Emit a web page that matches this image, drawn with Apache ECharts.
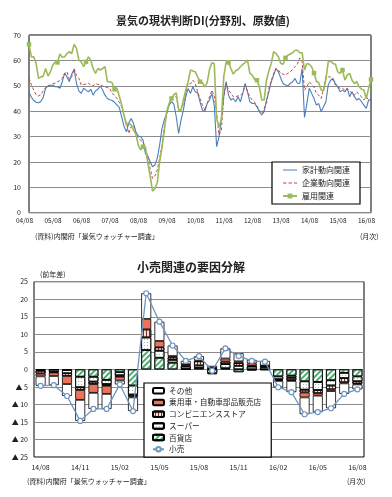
<!DOCTYPE html>
<html><head><meta charset="utf-8">
<script src="https://cdn.jsdelivr.net/npm/echarts@6/dist/echarts.min.js"></script>
<style>html,body{margin:0;padding:0;background:#fff}#c{width:392px;height:497px}</style>
</head><body><div id="c"></div>
<script>
// ---------- Top chart: 景気の現状判断DI (monthly 2004/08 - 2016/08) ----------
const startYear = 2004, startMonth = 8, monthCount = 145;
const monthLabels = [];
for (let i = 0; i < monthCount; i++) {
  const t = startYear * 12 + (startMonth - 1) + i;
  const yy = String(Math.floor(t / 12) % 100).padStart(2, '0');
  const mm = String(t % 12 + 1).padStart(2, '0');
  monthLabels.push(yy + '/' + mm);
}
const household = [47.5,45.5,44.2,43.5,43.3,43.8,45.5,49,50,49.8,50.3,49.6,49.6,49,51.5,55,53.5,51.6,54.6,56.4,50.9,48,47,49,48.3,47.6,48.6,46.3,48,48.6,49.9,48.3,46.3,45,44.5,44.2,43.5,42.5,41.5,37.8,34,31.9,35.2,37.1,35.2,31.9,30.2,29.9,28.6,23.4,22.3,20.1,18.1,18.8,21.4,26.6,33.2,36.7,39.1,42.4,43.7,42.8,37.8,31.2,36.5,40.4,45.7,48.9,47,49.6,47.6,47.2,43.7,40.4,39.8,43,44.4,47,42.4,26,29.9,37.1,45.7,51.6,46.3,44.4,45,43.7,45.7,43.7,47,50.9,47.6,43.7,43,43,41.7,39.8,38.5,39.8,44.4,47.6,51.6,54.2,56.8,55.5,53,50.9,50.3,49.9,50.9,51.6,52.9,51,50.9,56.8,37.5,43,49,47,45,42.4,43,39.8,41.7,43.7,50.3,52.2,52.9,50.9,49.6,47.6,48.3,47.6,49,45.7,47.6,45.7,44.4,45,43.7,42.4,41.1,44.4,44.4];
const corporate = [53,50.3,48.3,46.5,46,46.5,48,49.3,50,50.3,50.9,51,51.6,52,52.9,54.9,55.5,52.5,53.5,56.8,54,52.9,50.3,50.5,50.7,51,50.3,50,50.9,50.5,50.5,49.9,49.6,49.3,49,47,46.3,45,43.5,41.7,38.5,35.2,31.2,33.9,34.5,31.2,29.3,28.5,28,25.3,22,17.5,13.5,14.5,16.8,21.4,26.6,33.9,39.1,43,45.2,45.7,45.7,41,40.4,43,47,50.9,50.7,52.2,50.9,47.6,45,42.5,40.4,43,45.7,48.3,46,39.1,30.6,32.5,45.7,50.9,48.3,47,45.7,45.7,46,46.3,47,50.3,47.6,45.7,44.4,43.5,42,40.4,39.1,41,43,49,52,54.9,56.8,56.2,54.9,54.6,54.2,54.9,55.5,56.5,57.5,58.5,61,59.5,48.3,49.6,51.6,50.5,49.6,47,46.3,45,49,53.5,53.5,53.5,52.2,50.3,49.5,49,49,48.3,49,48,47,46.3,47.6,46.5,45.7,44.4,45.7,44.4,44.5];
const employment = [66.3,61.4,61.4,58.8,52.9,53.5,53.8,56.8,53.8,55.5,58.1,59.4,59.2,62.5,61.2,61.4,62.7,63.4,62.7,66.3,64.7,60.1,59.4,57.5,59.4,61.4,60.1,56.8,54.9,56.8,56.2,56.8,57.5,51.6,51.6,51.2,48.6,49,46,42.5,38.5,34.5,35.5,34.5,32.5,31,26.6,24.7,26,26,19.7,14.5,8.5,9.5,11.8,20,25.5,32.5,40,43,45,46.5,47.2,40.4,40.4,44.4,48.3,51.6,56.2,55.8,55.5,53.5,51.6,51.2,49.6,51.2,56.4,59.1,58.8,37,34,36.5,53.5,59.4,59.2,56.8,54.6,55.9,56.4,57.5,58.4,59.1,60.1,54.9,54.2,52.5,52.2,49.6,44.4,44.4,52.2,55.9,58.8,63.4,62.7,61.4,58.8,58.5,61,62,62.5,63,64,64,63,63,56.2,58.8,58.5,57.5,55,51.8,51.2,48.3,48,52.5,59.4,59.8,58.8,58.5,55.5,54.9,56.2,52.2,54.2,54.9,52.2,50.9,51.6,49.6,48.6,48.3,45,49,52.5];

// ---------- Bottom chart: 小売関連の要因分解 (2014/08 - 2016/08) ----------
const retailMonths = ['14/08','14/09','14/10','14/11','14/12','15/01','15/02','15/03','15/04','15/05','15/06','15/07','15/08','15/09','15/10','15/11','15/12','16/01','16/02','16/03','16/04','16/05','16/06','16/07','16/08'];
const deptStore = [-0.2,-0.1,-0.2,-2.1,-2.1,-3.0,-0.8,-4.6,5.5,3.3,1.9,0.1,0.4,-1.1,0.3,-0.8,-0.3,-0.2,-2.0,-1.8,-3.4,-3.6,-3.1,-1.0,-2.0];
const supermarket = [-0.2,-0.6,-0.9,-3.0,-1.4,-1.2,-0.9,-2.6,3.6,2.0,0.8,0.7,0.7,0.3,1.2,1.0,0.8,0.6,-0.8,-0.6,-2.4,-2.3,-1.5,-1.5,-1.4];
const convenience = [-0.8,-0.2,-0.8,-0.8,-0.7,-0.5,-0.4,-0.5,2.3,1.0,0.7,0.3,1.2,0.2,0.7,0.8,0.2,0.4,-0.3,-0.7,-0.8,-0.9,-1.1,-1.2,-0.7];
const carDealers = [-0.8,-1.0,-2.3,-2.8,-2.5,-2.3,-1.1,-0.3,3.0,1.8,0.4,0.4,0.2,-0.3,0.9,0.5,0.7,0.1,-0.2,-0.2,-1.4,-0.7,-0.5,-0.3,-0.2];
const others = [-2.7,-2.6,-3.4,-6.0,-4.6,-4.3,-1.1,-3.9,7.3,5.5,3.0,0.9,1.3,0.5,2.9,2.3,1.0,1.3,-1.8,-3.2,-4.8,-4.7,-4.9,-3.0,-1.4];
const retailTotal = [-4.7,-4.5,-7.6,-14.7,-11.3,-11.3,-4.3,-11.9,21.7,13.6,6.8,2.4,3.8,-0.4,6.0,3.8,2.4,2.2,-5.1,-6.5,-12.8,-12.2,-11.1,-7.0,-5.7];

const FONT = '"Noto Sans CJK JP", "Noto Sans", sans-serif';
const chart = echarts.init(document.getElementById('c'), null, {renderer: 'canvas'});
const barBorder = {borderColor: '#000', borderWidth: 0.8};
const solidLineIcon = 'path://M0,0h0.01v6h-0.01z M0,2.5h14v1.1h-14z';
const dashedLineIcon = 'path://M0,0h0.01v6h-0.01z M0,2.5h3.5v1.1h-3.5z M5.5,2.5h3.5v1.1h-3.5z M11,2.5h3v1.1h-3z';

const option = {
  animation: false,
  backgroundColor: '#fff',
  textStyle: {fontFamily: FONT, color: '#222'},
  title: [
    {text: '景気の現状判断DI(分野別、原数値)', left: 198, top: 10, textAlign: 'center',
     textStyle: {fontFamily: FONT, fontSize: 11, fontWeight: 'bold', color: '#222'}},
    {text: '小売関連の要因分解', left: 186, top: 256, textAlign: 'center',
     textStyle: {fontFamily: FONT, fontSize: 12, fontWeight: 'bold', color: '#222'}}
  ],
  grid: [
    {left: 29, top: 35, width: 342, height: 177.7, show: true, borderColor: '#000', borderWidth: 1, backgroundColor: 'transparent'},
    {left: 34, top: 281.7, width: 330, height: 175.3, show: true, borderColor: '#000', borderWidth: 1, backgroundColor: 'transparent'}
  ],
  xAxis: [
    {type: 'category', gridIndex: 0, data: monthLabels, boundaryGap: false,
     axisLine: {show: false}, axisTick: {show: false},
     axisLabel: {interval: 11, fontSize: 6.5, color: '#222', margin: 5, padding: [0, 9, 0, 0]}},
    {type: 'category', gridIndex: 1, data: retailMonths, boundaryGap: true,
     axisLine: {show: false}, axisTick: {show: false},
     axisLabel: {interval: 2, fontSize: 7, color: '#222', margin: 7}}
  ],
  yAxis: [
    {type: 'value', gridIndex: 0, min: 0, max: 70, interval: 10,
     axisLine: {show: false}, axisTick: {show: false},
     splitLine: {lineStyle: {color: '#8c8c8c', width: 1}},
     axisLabel: {fontSize: 7, color: '#222', margin: 8}},
    {type: 'value', gridIndex: 1, min: -25, max: 25, interval: 5,
     axisLine: {show: false}, axisTick: {show: false},
     splitLine: {lineStyle: {color: '#8c8c8c', width: 1}},
     axisLabel: {fontSize: 7, color: '#222', margin: 6,
       formatter: v => v < 0 ? '▲ ' + (-v) : String(v)}}
  ],
  legend: [
    {orient: 'vertical', left: 272, top: 162, itemWidth: 14, itemHeight: 6, itemGap: 5,
     padding: [4, 10, 4, 10], borderColor: '#000', borderWidth: 1.2, backgroundColor: '#fff',
     textStyle: {fontSize: 8, color: '#222', fontFamily: FONT},
     data: [{name: '家計動向関連', icon: solidLineIcon}, {name: '企業動向関連', icon: dashedLineIcon}, '雇用関連']},
    {orient: 'vertical', left: 144, top: 383, itemWidth: 11, itemHeight: 5.5, itemGap: 4,
     padding: [4, 10, 4, 8], borderColor: '#000', borderWidth: 1.2, backgroundColor: '#fff',
     textStyle: {fontSize: 7.7, color: '#222', fontFamily: FONT},
     data: ['その他', '乗用車・自動車部品販売店', 'コンビニエンスストア', 'スーパー', '百貨店', '小売']}
  ],
  graphic: [
    {type: 'text', left: 35, top: 233, style: {text: '(資料)内閣府「景気ウォッチャー調査」', fontSize: 7, fill: '#222', fontFamily: FONT}},
    {type: 'text', left: 360, top: 233, style: {text: '(月次)', fontSize: 7, fill: '#222', fontFamily: FONT}},
    {type: 'text', left: 40, top: 271, style: {text: '(前年差)', fontSize: 7, fill: '#222', fontFamily: FONT}},
    {type: 'text', left: 27, top: 478, style: {text: '(資料)内閣府「景気ウォッチャー調査」', fontSize: 7, fill: '#222', fontFamily: FONT}},
    {type: 'text', left: 347, top: 478, style: {text: '(月次)', fontSize: 7, fill: '#222', fontFamily: FONT}}
  ],
  series: [
    {name: '家計動向関連', type: 'line', xAxisIndex: 0, yAxisIndex: 0, data: household,
     symbol: 'none', lineStyle: {color: '#4a7ebb', width: 1.1}, itemStyle: {color: '#4a7ebb'}},
    {name: '企業動向関連', type: 'line', xAxisIndex: 0, yAxisIndex: 0, data: corporate,
     symbol: 'none', lineStyle: {color: '#be4b48', width: 1, type: [3, 2]}, itemStyle: {color: '#be4b48'}},
    {name: '雇用関連', type: 'line', xAxisIndex: 0, yAxisIndex: 0, data: employment,
     symbol: 'rect', symbolSize: 4.5, lineStyle: {color: '#9bbb59', width: 1.6}, itemStyle: {color: '#9bbb59'}},

    {name: '百貨店', type: 'bar', stack: 'r', xAxisIndex: 1, yAxisIndex: 1, data: deptStore, barWidth: 10,
     itemStyle: Object.assign({color: '#ffffff', decal: {symbol: 'rect', symbolSize: 1, dashArrayX: [1, 0], dashArrayY: [1.2, 2], rotation: -Math.PI / 4, color: '#4fae6e'}}, barBorder)},
    {name: 'スーパー', type: 'bar', stack: 'r', xAxisIndex: 1, yAxisIndex: 1, data: supermarket, barWidth: 10,
     itemStyle: Object.assign({color: '#ffffff', decal: {symbol: 'rect', symbolSize: 1, dashArrayX: [1, 2], dashArrayY: [1, 2], rotation: 0, color: '#9fbfa8'}}, barBorder)},
    {name: 'コンビニエンスストア', type: 'bar', stack: 'r', xAxisIndex: 1, yAxisIndex: 1, data: convenience, barWidth: 10,
     itemStyle: Object.assign({color: '#f6e0d8', decal: {symbol: 'rect', symbolSize: 1, dashArrayX: [1, 0], dashArrayY: [1, 1.2], rotation: Math.PI / 2, color: '#7a2e20'}}, barBorder)},
    {name: '乗用車・自動車部品販売店', type: 'bar', stack: 'r', xAxisIndex: 1, yAxisIndex: 1, data: carDealers, barWidth: 10,
     itemStyle: Object.assign({color: '#ea735b'}, barBorder)},
    {name: 'その他', type: 'bar', stack: 'r', xAxisIndex: 1, yAxisIndex: 1, data: others, barWidth: 10,
     itemStyle: Object.assign({color: '#ffffff'}, barBorder)},
    {name: '小売', type: 'line', xAxisIndex: 1, yAxisIndex: 1, data: retailTotal, z: 5,
     symbol: 'circle', symbolSize: 5, showAllSymbol: true,
     lineStyle: {color: '#7094c0', width: 1.3},
     itemStyle: {color: '#ffffff', borderColor: '#7094c0', borderWidth: 1.2}}
  ]
};
chart.setOption(option);
</script>
</body></html>
